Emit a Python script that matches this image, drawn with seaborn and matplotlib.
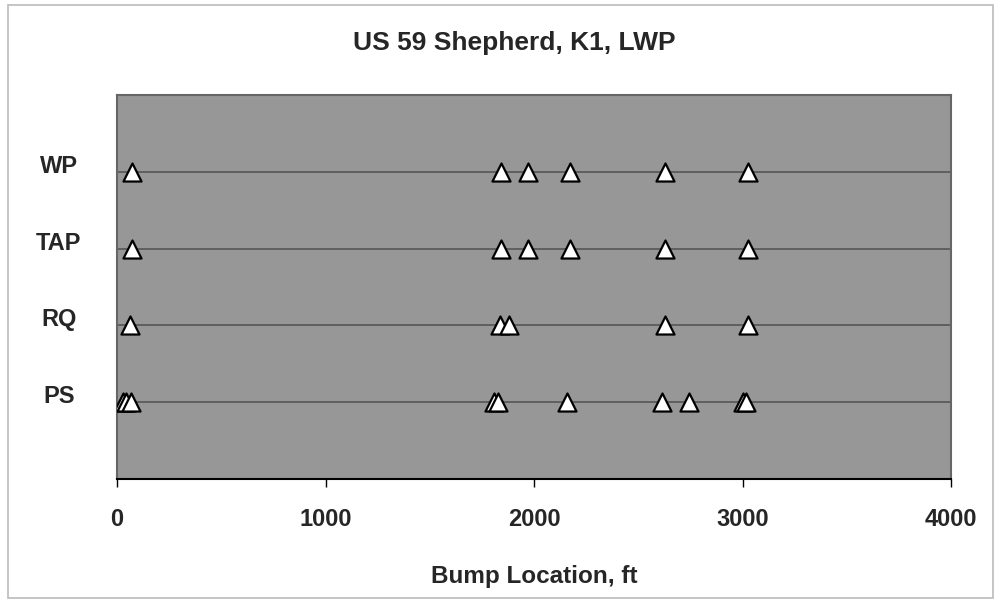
import matplotlib
matplotlib.use("Agg")
import matplotlib.pyplot as plt
import matplotlib.transforms as mtransforms
from matplotlib.patches import Rectangle
import seaborn as sns
import pandas as pd

# ---- data ----
categories = ["WP", "TAP", "RQ", "PS"]
wp_locs = [72, 1840, 1970, 2173, 2628, 3026]
tap_locs = [72, 1840, 1970, 2173, 2628, 3026]
rq_locs = [62, 1837, 1882, 2628, 3026]
ps_locs = [30, 45, 65, 1807, 1826, 2160, 2612, 2743, 3002, 3017]
x_ticks = [0, 1000, 2000, 3000, 4000]

series = {"WP": wp_locs, "TAP": tap_locs, "RQ": rq_locs, "PS": ps_locs}
rows = []
for cat, locs in series.items():
    for v in locs:
        rows.append({"method": cat, "loc": v})
df = pd.DataFrame(rows)

sns.set_style("white")
plt.rcParams["font.family"] = ["Liberation Sans", "DejaVu Sans"]
fs_tick = 17
fs_label = 17.5
fs_title = 19

fig = plt.figure(figsize=(9.94, 6.03), dpi=100)
W, H = 994, 603
ax = fig.add_axes([117 / W, 1 - 479 / H, (951 - 117) / W, (479 - 95) / H])
ax.set_facecolor("#979797")

sns.stripplot(data=df, x="loc", y="method", order=categories, orient="h",
              jitter=False, marker="^", size=13, color="white",
              edgecolor="black", linewidth=1.6, ax=ax, zorder=3)

ax.set_xlim(0, 4000)
ax.set_ylim(4, -1)
ax.set_xticks(x_ticks)
ax.set_xticklabels([str(t) for t in x_ticks], fontsize=fs_tick, fontweight="bold")
ax.tick_params(axis="x", direction="out", length=6, width=1, color="black", pad=15, bottom=True)
ax.set_yticks(range(len(categories)))
ax.set_yticklabels(categories, fontsize=fs_tick, fontweight="bold", ha="center")
ax.tick_params(axis="y", length=0, pad=42)
offset = mtransforms.ScaledTranslation(0, 0.08, fig.dpi_scale_trans)
for lbl in ax.get_yticklabels():
    lbl.set_transform(lbl.get_transform() + offset)

ax.grid(axis="y", color="#555555", linewidth=1.2, zorder=1)
ax.grid(axis="x", visible=False)
ax.set_axisbelow(True)
ax.set_xlabel("Bump Location, ft", fontsize=fs_label, fontweight="bold", labelpad=24)
ax.set_ylabel("")

for side in ["top", "left", "right"]:
    ax.spines[side].set_color("#666666")
    ax.spines[side].set_linewidth(1.5)
ax.spines["bottom"].set_color("black")
ax.spines["bottom"].set_linewidth(1.5)

fig.text(514 / W, 1 - 43 / H, "US 59 Shepherd, K1, LWP", fontsize=fs_title,
         fontweight="bold", ha="center", va="center")

fig.patches.append(Rectangle((8 / W, 5 / H), (W - 9) / W, (H - 10) / H,
                             transform=fig.transFigure, fill=False,
                             edgecolor="#bbbbbb", linewidth=1.2))

fig.savefig("out.png", dpi=100)
